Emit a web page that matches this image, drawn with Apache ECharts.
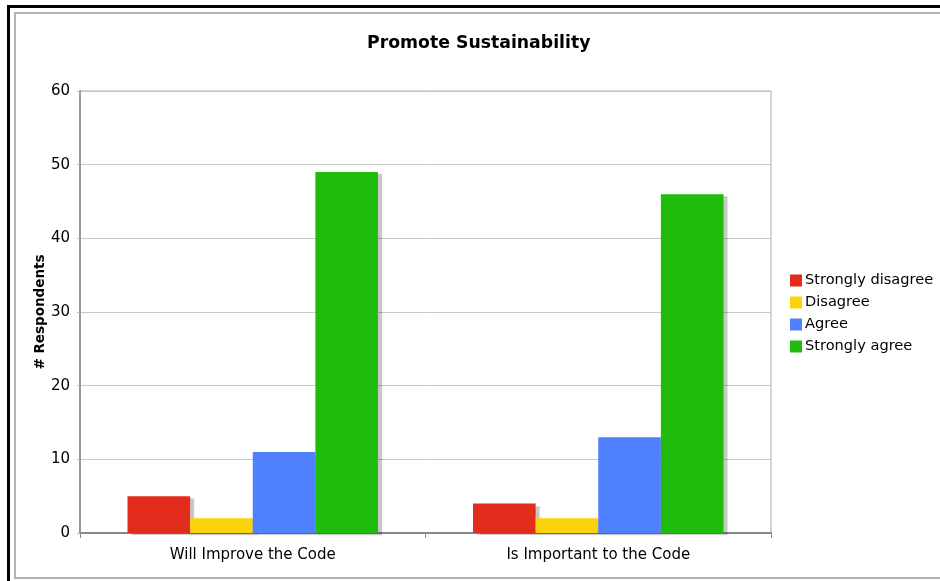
<!DOCTYPE html>
<html>
<head>
<meta charset="utf-8">
<script src="https://cdn.jsdelivr.net/npm/echarts@6/dist/echarts.min.js"></script>
<style>
  html, body { margin: 0; padding: 0; background: #fff; }
  #chart { width: 940px; height: 581px; }
</style>
</head>
<body>
<div id="chart"></div>
<script>
// Survey responses: "Promote Sustainability"
const categories = ['Will Improve the Code', 'Is Important to the Code'];
const seriesNames = ['Strongly disagree', 'Disagree', 'Agree', 'Strongly agree'];
const stronglyDisagree = [5, 4];
const disagree = [2, 2];
const agree = [11, 13];
const stronglyAgree = [49, 46];
const yTicks = { min: 0, max: 60, interval: 10 };

const colors = ['#e22d1c', '#fbd20b', '#4f81fe', '#1fbc0b'];
const values = [stronglyDisagree, disagree, agree, stronglyAgree];
const font = '"DejaVu Sans", Verdana, sans-serif';

const chart = echarts.init(document.getElementById('chart'), null, { renderer: 'canvas' });

chart.setOption({
  animation: false,
  backgroundColor: '#fff',
  color: colors,
  textStyle: { fontFamily: font, color: '#000' },
  title: {
    text: 'Promote Sustainability',
    left: 362,
    top: 30,
    textStyle: { fontFamily: font, fontSize: 17.3, fontWeight: 'bold', color: '#000' }
  },
  graphic: [
    { type: 'rect', silent: true, z: 100,
      shape: { x: 8.5, y: 6.5, width: 1000, height: 1000 },
      style: { fill: 'none', stroke: '#000', lineWidth: 3 } },
    { type: 'rect', silent: true, z: 100,
      shape: { x: 15, y: 13, width: 1000, height: 565 },
      style: { fill: 'none', stroke: '#b4b4b4', lineWidth: 2 } }
  ],
  legend: {
    orient: 'vertical',
    left: 785,
    top: 268,
    itemWidth: 12,
    itemHeight: 12,
    itemGap: 7,
    icon: 'rect',
    textStyle: { fontFamily: font, fontSize: 14.6, color: '#000', padding: [0, 0, 0, -2] },
    data: seriesNames
  },
  grid: {
    left: 80, top: 91, right: 169, bottom: 48,
    show: true,
    borderColor: '#a8a8a8',
    borderWidth: 1
  },
  xAxis: {
    type: 'category',
    data: categories,
    axisLine: { lineStyle: { color: '#888', width: 2 } },
    axisTick: { show: true, length: 5, lineStyle: { color: '#888' } },
    axisLabel: { fontFamily: font, fontSize: 15, color: '#000', margin: 15 }
  },
  yAxis: {
    type: 'value',
    min: yTicks.min,
    max: yTicks.max,
    interval: yTicks.interval,
    name: '# Respondents',
    nameLocation: 'middle',
    nameRotate: 90,
    nameGap: 33,
    nameMoveOverlap: false,
    nameTextStyle: { fontFamily: font, fontSize: 13.5, fontWeight: 'bold', color: '#000' },
    axisLine: { show: true, lineStyle: { color: '#999', width: 2 } },
    axisTick: { show: true, length: 3, lineStyle: { color: '#bbb' } },
    axisLabel: { fontFamily: font, fontSize: 15, color: '#000', margin: 10 },
    splitLine: { lineStyle: { color: '#c8c8c8' } }
  },
  series: seriesNames.map((name, i) => ({
    name: name,
    type: 'bar',
    data: values[i],
    barGap: '0%',
    barCategoryGap: '27.5%',
    itemStyle: {
      color: colors[i],
      shadowColor: 'rgba(0,0,0,0.22)',
      shadowOffsetX: 4,
      shadowOffsetY: 2,
      shadowBlur: 1
    }
  }))
});
</script>
</body>
</html>
